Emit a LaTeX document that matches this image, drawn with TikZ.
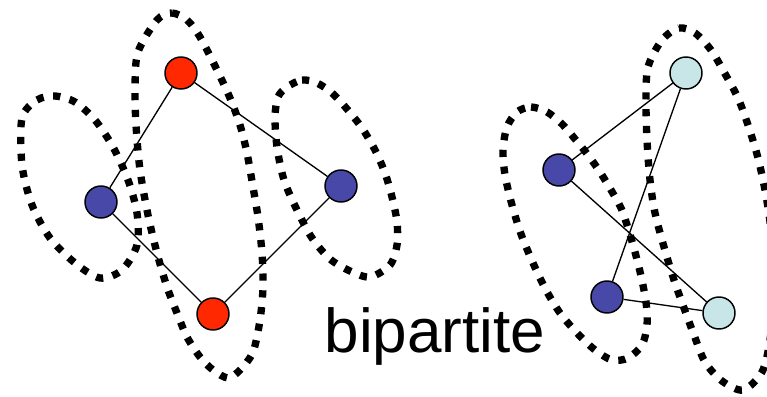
\documentclass[tikz,border=0pt]{standalone}
\usepackage{fontspec}
\setmainfont{Liberation Sans}
\definecolor{vred}{RGB}{255,40,0}
\definecolor{vblue}{RGB}{72,72,168}
\definecolor{vcyan}{RGB}{200,230,232}
\tikzset{
  vertex/.style={circle, draw=black, line width=1.1pt, minimum size=24pt, inner sep=0pt},
  redv/.style={vertex, fill=vred},
  bluev/.style={vertex, fill=vblue},
  cyanv/.style={vertex, fill=vcyan},
  edge/.style={draw=black, line width=1pt},
  part/.style={draw=black, line width=5.5pt, line cap=butt, dash pattern=on 5.4pt off 7.2pt}
}
\begin{document}
\begin{tikzpicture}[x=0.75pt, y=-0.75pt]
\useasboundingbox (0,0) rectangle (767,396);

% left graph: a 4-cycle
\node[redv]  (r1) at (181,73) {};
\node[bluev] (b1) at (101,202) {};
\node[bluev] (b2) at (341,186) {};
\node[redv]  (r2) at (213,314) {};
\draw[edge] (r1) -- (b1);
\draw[edge] (r1) -- (b2);
\draw[edge] (b1) -- (r2);
\draw[edge] (b2) -- (r2);

% right graph
\node[cyanv] (c1) at (686,73) {};
\node[bluev] (b3) at (559,170) {};
\node[bluev] (b4) at (607,297) {};
\node[cyanv] (c2) at (719,313) {};
\draw[edge] (c1) -- (b3);
\draw[edge] (c1) -- (b4);
\draw[edge] (b3) -- (c2);
\draw[edge] (b4) -- (c2);

% partition outlines, left graph
\draw[part] plot[smooth cycle] coordinates {
  (22,118) (37,100) (55,96) (75,102) (95,120) (113,147) (128,180) (137,213)
  (137,245) (122,270) (100,278) (75,263) (50,238) (32,205) (22,165)};
\draw[part] plot[smooth cycle] coordinates {
  (157,20) (172,13) (187,20) (200,37) (217,70) (230,98) (240,125) (247,153)
  (253,187) (258,217) (262,253) (263,287) (260,320) (253,352) (240,370)
  (228,378) (213,370) (200,357) (187,337) (177,313) (167,287) (157,253)
  (148,215) (140,170) (136,125) (135,87) (138,52)};
\draw[part] plot[smooth cycle] coordinates {
  (287,87) (302,80) (317,83) (332,93) (347,109) (362,128) (375,150) (385,173)
  (392,197) (397,222) (397,245) (390,265) (370,277) (350,271) (330,259)
  (312,238) (297,210) (284,180) (277,147) (275,117) (278,97)};

% partition outlines, right graph
\draw[part] plot[smooth cycle] coordinates {
  (517,112) (531,107) (547,112) (562,124) (575,139) (588,155) (600,172)
  (611,190) (621,208) (628,228) (635,252) (641,276) (646,302) (647,325)
  (642,345) (628,358) (612,360) (595,350) (577,333) (560,313) (546,290)
  (533,263) (521,234) (512,205) (505,175) (503,150) (507,127)};
\draw[part] plot[smooth cycle] coordinates {
  (662,40) (679,28) (695,33) (711,50) (724,72) (738,98) (749,128) (758,158)
  (765,190) (770,222) (773,258) (773,300) (770,340) (762,372) (743,390)
  (722,381) (705,362) (694,335) (684,308) (674,280) (664,247) (655,213)
  (650,180) (647,140) (646,100) (648,67)};

% label
\node[font=\fontsize{46.5pt}{50pt}\selectfont, anchor=base, inner sep=0pt] (lbl) at (435,352) {bipartite};
\end{tikzpicture}
\end{document}
